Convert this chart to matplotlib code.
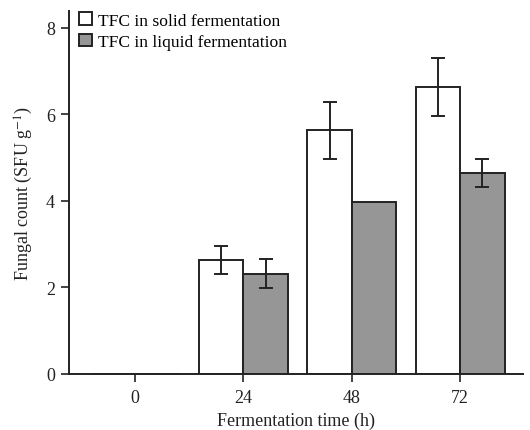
import numpy as np
import matplotlib.pyplot as plt

# data
times = ['0', '24', '48', '72']
solid = [0.0, 2.64, 5.63, 6.64]
solid_err = [0.0, 0.33, 0.65, 0.67]
liquid = [0.0, 2.32, 3.98, 4.65]
liquid_err = [0.0, 0.33, 0.0, 0.33]

plt.rcParams['font.family'] = ['Liberation Serif', 'DejaVu Serif']
plt.rcParams['mathtext.fontset'] = 'stix'

fig = plt.figure(figsize=(5.30, 4.31), dpi=100)
ax = fig.add_axes([0.130, 0.130, 0.857, 0.842])

x = np.arange(len(times))
w = 0.41
edge = '#222222'

ax.bar(x - w / 2, solid, w, color='white', edgecolor=edge, linewidth=1.4,
       label='TFC in solid fermentation', zorder=2)
ax.bar(x + w / 2, liquid, w, color='#969696', edgecolor=edge, linewidth=1.4,
       label='TFC in liquid fermentation', zorder=2)

# error bars only where there is a spread
for xs, ys, es in [(x - w / 2, solid, solid_err), (x + w / 2, liquid, liquid_err)]:
    for xi, yi, ei in zip(xs, ys, es):
        if ei > 0:
            ax.errorbar(xi, yi, yerr=ei, fmt='none', ecolor=edge,
                        elinewidth=1.4, capsize=4.7, capthick=1.4, zorder=3)

ax.set_xlim(-0.61, 3.58)
ax.set_ylim(0, 8.39)
ax.set_xticks(x)
ax.set_xticklabels(times)
ax.set_yticks([0, 2, 4, 6, 8])

for s in ['top', 'right']:
    ax.spines[s].set_visible(False)
for s in ['left', 'bottom']:
    ax.spines[s].set_linewidth(1.4)
    ax.spines[s].set_color(edge)

ax.tick_params(axis='both', direction='out', length=6, width=1.2,
               color=edge, labelsize=13, labelcolor='#222222')
ax.tick_params(axis='x', pad=5)
ax.tick_params(axis='y', pad=4)

ax.set_xlabel('Fermentation time (h)', fontsize=13, color='#222222', labelpad=4)
ax.set_ylabel('Fungal count (SFU g$^{-1}$)', fontsize=13, color='#222222', labelpad=8)

ax.legend(loc='upper left', bbox_to_anchor=(0.0, 1.025), frameon=False,
          fontsize=12.6, handlelength=0.7, handleheight=0.7, handletextpad=0.35,
          labelspacing=0.3, borderaxespad=0.2)

fig.savefig('out.png', dpi=100)
